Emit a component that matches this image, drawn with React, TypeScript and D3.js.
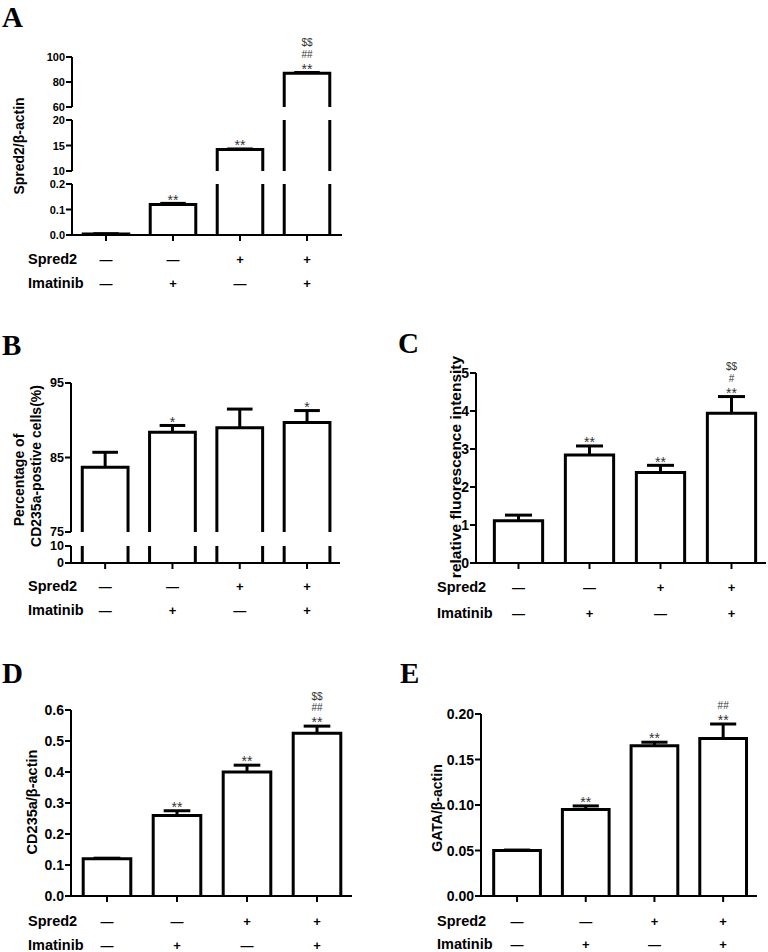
import React from 'react'
import * as d3 from 'd3'

// treatment groups (same order in every panel)
const groups = ['control', 'imatinib', 'spred2', 'spred2+imatinib']
const spred2Signs = ['—', '—', '+', '+']
const imatinibSigns = ['—', '+', '—', '+']

// A: Spred2/β-actin (broken axis)
const aValues = [0.004, 0.12, 14.2, 87]
const aErrors = [0.001, 0.004, 0.12, 0.6]
const aMarks = [[], ['**'], ['**'], ['**', '##', '$$']]
const aBreaks = [[0, 0.2], [10, 20], [60, 100]]
const aTicks = [[0, 0.1, 0.2], [10, 15, 20], [60, 80, 100]]

// B: Percentage of CD235a-positive cells (broken axis)
const bValues = [83.7, 88.4, 89.0, 89.7]
const bErrors = [2.0, 0.9, 2.5, 1.6]
const bMarks = [[], ['*'], [], ['*']]
const bBreaks = [[0, 10], [75, 95]]
const bTicks = [[0, 10], [75, 85, 95]]

// C: relative fluorescence intensity
const cValues = [1.11, 2.84, 2.38, 3.94]
const cErrors = [0.15, 0.24, 0.19, 0.44]
const cMarks = [[], ['**'], ['**'], ['**', '#', '$$']]
const cTicks = [0, 1, 2, 3, 4, 5]

// D: CD235a/β-actin
const dValues = [0.12, 0.26, 0.4, 0.525]
const dErrors = [0.002, 0.015, 0.022, 0.023]
const dMarks = [[], ['**'], ['**'], ['**', '##', '$$']]
const dTicks = [0, 0.1, 0.2, 0.3, 0.4, 0.5, 0.6]

// E: GATA/β-actin
const eValues = [0.05, 0.095, 0.165, 0.173]
const eErrors = [0.0005, 0.004, 0.004, 0.016]
const eMarks = [[], ['**'], ['**'], ['**', '##']]
const eTicks = [0, 0.05, 0.1, 0.15, 0.2]

const SANS = '"Liberation Sans", Arial, sans-serif'
const SERIF = '"Liberation Serif", "Times New Roman", serif'

type Seg = { domain: number[]; px: number[]; ticks: number[]; fmt: string }
type PanelProps = {
  letter: string; lx: number; ly: number
  values: number[]; errors: number[]; marks: string[][]
  segs: Seg[]
  axisX: number; axisEnd: number; bandStart: number; step: number
  ylabel: string[]; ylx: number[]; yly: number[]; ylabelSize?: number
  rowLabelX: number; rowY: number[]
  tickSize?: number
}

function Panel(p: PanelProps) {
  const x = d3.scaleBand<string>().domain(groups)
    .range([p.bandStart, p.bandStart + p.step * groups.length])
    .paddingInner(0.32).paddingOuter(0.16)
  const bw = x.bandwidth()
  const base = p.segs[0].px[0]
  const scales = p.segs.map(s => d3.scaleLinear().domain(s.domain).range(s.px))
  const segOf = (v: number) => {
    let k = 0
    p.segs.forEach((s, i) => { if (v >= s.domain[0]) k = i })
    return k
  }
  const fs = p.tickSize ?? 14

  return (
    <g>
      <text x={p.lx} y={p.ly} fontFamily={SERIF} fontWeight="bold" fontSize={29}>{p.letter}</text>

      {/* y axis segments */}
      {p.segs.map((s, si) => (
        <g key={'ax' + si}>
          <line x1={p.axisX} x2={p.axisX} y1={s.px[0] + (si === 0 ? 1 : 0)} y2={s.px[1]} stroke="#000" strokeWidth={2} />
          {s.ticks.map(t => (
            <g key={t}>
              <line x1={p.axisX - 6} x2={p.axisX} y1={scales[si](t)} y2={scales[si](t)} stroke="#000" strokeWidth={2} />
              <text x={p.axisX - 7} y={scales[si](t)} textAnchor="end" dominantBaseline="central"
                fontFamily={SANS} fontWeight="bold" fontSize={fs}>{d3.format(s.fmt)(t)}</text>
            </g>
          ))}
        </g>
      ))}

      {/* x axis */}
      <line x1={p.axisX} x2={p.axisEnd} y1={base} y2={base} stroke="#000" strokeWidth={2} />
      {groups.map(g => (
        <line key={g} x1={x(g)! + bw / 2} x2={x(g)! + bw / 2} y1={base} y2={base + 6} stroke="#000" strokeWidth={2} />
      ))}

      {/* bars */}
      {p.segs.map((s, si) => groups.map((g, i) => {
        const v = p.values[i]
        if (si > 0 && v <= s.domain[0]) return null
        const x0 = x(g)!, x1 = x0 + bw
        const closed = v <= s.domain[1]
        const yt = scales[si](Math.min(v, s.domain[1]))
        const yb = s.px[0]
        const d = closed ? `M${x0},${yb}V${yt}H${x1}V${yb}` : `M${x0},${yb}V${yt}M${x1},${yb}V${yt}`
        return <path key={'b' + si + g} d={d} fill="none" stroke="#000" strokeWidth={3} strokeLinejoin="miter" />
      }))}

      {/* error bars and significance marks */}
      {groups.map((g, i) => {
        const v = p.values[i], e = p.errors[i]
        const sc = scales[segOf(v)]
        const cx = x(g)! + bw / 2
        const yTop = sc(v + e)
        return (
          <g key={'e' + g}>
            <line x1={cx} x2={cx} y1={sc(v)} y2={yTop} stroke="#000" strokeWidth={3} />
            <line x1={cx - bw * 0.28} x2={cx + bw * 0.28} y1={yTop} y2={yTop} stroke="#000" strokeWidth={3} />
            {p.marks[i].map((m, j) => {
              const star = m[0] === '*'
              const center = yTop - 7 - j * 11.5
              const shift = star ? 8.2 : 3.6
              return (
                <text key={m} x={cx} y={center + shift} textAnchor="middle"
                  fontFamily={SANS} fontSize={star ? 14 : 10} fill="#333">{m}</text>
              )
            })}
          </g>
        )
      })}

      {/* y label */}
      {p.ylabel.map((l, k) => (
        <text key={l} transform={`translate(${p.ylx[k]},${p.yly[k]}) rotate(-90)`} textAnchor="middle"
          dominantBaseline="central" fontFamily={SANS} fontWeight="bold" fontSize={p.ylabelSize ?? 14}>{l}</text>
      ))}

      {/* treatment rows */}
      {[['Spred2', spred2Signs], ['Imatinib', imatinibSigns]].map(([lab, signs], r) => (
        <g key={lab as string}>
          <text x={p.rowLabelX} y={p.rowY[r]} dominantBaseline="central" fontFamily={SANS}
            fontWeight="bold" fontSize={14.5}>{lab as string}</text>
          {groups.map((g, i) => (
            <text key={g} x={x(g)! + bw / 2} y={p.rowY[r]} textAnchor="middle" dominantBaseline="central"
              fontFamily={SANS} fontWeight="bold" fontSize={13}>{(signs as string[])[i]}</text>
          ))}
        </g>
      ))}
    </g>
  )
}

export default function App() {
  const aSegs: Seg[] = [
    { domain: aBreaks[0], px: [235, 184], ticks: aTicks[0], fmt: '.1f' },
    { domain: aBreaks[1], px: [171, 120], ticks: aTicks[1], fmt: 'd' },
    { domain: aBreaks[2], px: [107, 57], ticks: aTicks[2], fmt: 'd' },
  ]
  const bSegs: Seg[] = [
    { domain: bBreaks[0], px: [563, 546], ticks: bTicks[0], fmt: 'd' },
    { domain: bBreaks[1], px: [532, 383], ticks: bTicks[1], fmt: 'd' },
  ]
  const cSegs: Seg[] = [{ domain: [0, 5], px: [563, 373], ticks: cTicks, fmt: 'd' }]
  const dSegs: Seg[] = [{ domain: [0, 0.6], px: [896, 710], ticks: dTicks, fmt: '.1f' }]
  const eSegs: Seg[] = [{ domain: [0, 0.2], px: [896, 714], ticks: eTicks, fmt: '.2f' }]

  return (
    <svg width={768} height={952} style={{ position: 'absolute', left: 0, top: 0, background: '#fff' }}>
      <rect width={768} height={952} fill="#fff" />
      <Panel letter="A" lx={2} ly={27} values={aValues} errors={aErrors} marks={aMarks} segs={aSegs}
        axisX={72} axisEnd={342} bandStart={72.5} step={67}
        ylabel={['Spred2/β-actin']} ylx={[19]} yly={[146]} rowLabelX={28} rowY={[259, 283]} tickSize={11} />
      <Panel letter="B" lx={2} ly={355} values={bValues} errors={bErrors} marks={bMarks} segs={bSegs}
        axisX={71} axisEnd={340} bandStart={71.5} step={67.3}
        ylabel={['Percentage of', 'CD235a-postive cells(%)']} ylx={[19, 36]} yly={[480, 466]}
        rowLabelX={28} rowY={[586, 610]} tickSize={12.5} />
      <Panel letter="C" lx={398} ly={353} values={cValues} errors={cErrors} marks={cMarks} segs={cSegs}
        axisX={476} axisEnd={766} bandStart={483} step={71}
        ylabel={['relative fluorescence intensity']} ylx={[455]} yly={[467]} ylabelSize={15.5}
        rowLabelX={437} rowY={[587, 613]} />
      <Panel letter="D" lx={2} ly={683} values={dValues} errors={dErrors} marks={dMarks} segs={dSegs}
        axisX={71} axisEnd={352} bandStart={72} step={70}
        ylabel={['CD235a/β-actin']} ylx={[32]} yly={[802]} ylabelSize={14.5} rowLabelX={28} rowY={[921, 945]} />
      <Panel letter="E" lx={400} ly={683} values={eValues} errors={eErrors} marks={eMarks} segs={eSegs}
        axisX={481} axisEnd={757} bandStart={482.7} step={68.7}
        ylabel={['GATA/β-actin']} ylx={[437]} yly={[808]} rowLabelX={437} rowY={[921, 944]} />
    </svg>
  )
}
